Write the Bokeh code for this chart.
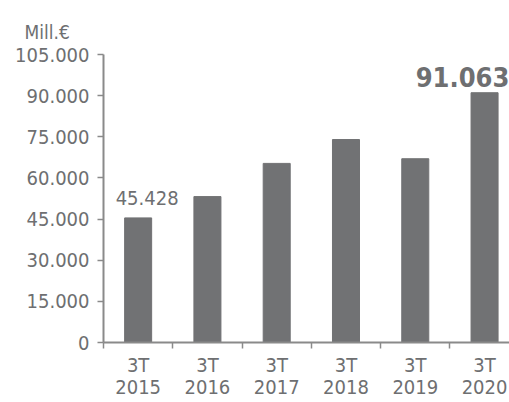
from bokeh.plotting import figure
from bokeh.models import Range1d, FixedTicker, ColumnDataSource
from bokeh.core.properties import value
from bokeh.embed import file_html
from bokeh.resources import INLINE

categories = ["3T\n2015", "3T\n2016", "3T\n2017", "3T\n2018", "3T\n2019", "3T\n2020"]
values = [45428, 53200, 65300, 74000, 67000, 91063]
y_ticks = [0, 15000, 30000, 45000, 60000, 75000, 90000, 105000]
label_idx = [0, 5]
label_text = ["45.428", "91.063"]
unit_label = "Mill.€"

FONT = "DejaVu Sans Condensed"
TXT = "#6e6f71"
BAR = "#717274"
AX = "#8a8a8a"

xs = [i + 0.5 for i in range(len(categories))]

p = figure(width=509, height=402, output_backend="svg", toolbar_location=None,
           x_range=Range1d(0, 5.86), y_range=Range1d(0, 105000),
           min_border_left=103, min_border_right=0, min_border_top=54, min_border_bottom=59)
p.outline_line_color = None
p.xgrid.visible = False
p.ygrid.visible = False

p.title.text = unit_label
p.title.align = "left"
p.title.offset = -79
p.title.standoff = 24
p.title.text_font = FONT
p.title.text_font_size = "19px"
p.title.text_font_style = "normal"
p.title.text_color = TXT

p.vbar(x=xs, top=values, width=0.39, color=BAR)

# value labels
src1 = ColumnDataSource(dict(x=[xs[label_idx[0]]], y=[values[label_idx[0]]], t=[label_text[0]]))
p.text(x="x", y="y", text="t", source=src1, text_align="center", text_baseline="alphabetic",
       x_offset=9, y_offset=-20, text_font=value(FONT), text_font_size="20px", text_color=TXT)
src2 = ColumnDataSource(dict(x=[xs[label_idx[1]]], y=[values[label_idx[1]]], t=[label_text[1]]))
p.text(x="x", y="y", text="t", source=src2, text_align="center", text_baseline="alphabetic",
       x_offset=-22, y_offset=-16, text_font=value(FONT), text_font_size="27px",
       text_font_style="bold", text_color=TXT)

# y axis
yax = p.yaxis[0]
yax.ticker = FixedTicker(ticks=y_ticks)
yax.major_label_overrides = {v: (f"{v:,}".replace(",", ".")) for v in y_ticks}
yax.axis_line_color = AX
yax.axis_line_width = 2
yax.major_tick_line_color = AX
yax.major_tick_line_width = 1.5
yax.major_tick_out = 6
yax.major_tick_in = 0
yax.minor_tick_line_color = None
yax.major_label_text_font = FONT
yax.major_label_text_font_size = "20px"
yax.major_label_text_color = TXT
yax.major_label_standoff = 8

# x axis
xax = p.xaxis[0]
xax.ticker = FixedTicker(ticks=xs, minor_ticks=list(range(len(categories))))
xax.major_label_overrides = {x: c for x, c in zip(xs, categories)}
xax.axis_line_color = AX
xax.axis_line_width = 2
xax.major_tick_line_color = None
xax.major_tick_out = 0
xax.major_tick_in = 0
xax.minor_tick_line_color = AX
xax.minor_tick_line_width = 1.5
xax.minor_tick_out = 6
xax.minor_tick_in = 0
xax.major_label_text_font = FONT
xax.major_label_text_font_size = "20px"
xax.major_label_text_line_height = 0.95
xax.major_label_text_color = TXT
xax.major_label_standoff = 4

open("out.html", "w").write(file_html(p, INLINE))
